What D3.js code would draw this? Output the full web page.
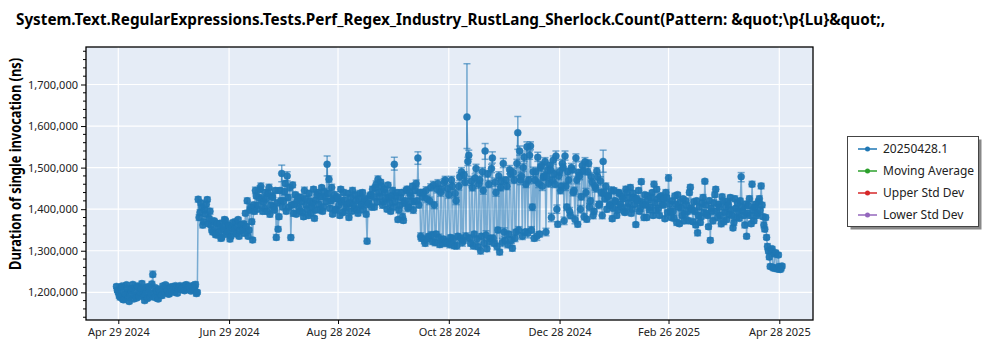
<!DOCTYPE html>
<html><head><meta charset="utf-8">
<script src="https://cdn.jsdelivr.net/npm/d3@7"></script>
<style>body{margin:0;background:#fff} text{font-family:"Noto Sans","Open Sans",sans-serif}</style>
</head><body><svg id="c" width="1000" height="350"></svg>
<script>
const chartTitle = "System.Text.RegularExpressions.Tests.Perf_Regex_Industry_RustLang_Sherlock.Count(Pattern: &quot;\\p{Lu}&quot;,";
const yTitle = "Duration of single invocation (ns)";
const xTickLabels = ["Apr 29 2024","Jun 29 2024","Aug 28 2024","Oct 28 2024","Dec 28 2024","Feb 26 2025","Apr 28 2025"];
const yTicks = [1200000,1300000,1400000,1500000,1600000,1700000];
const legendLabels = ["20250428.1","Moving Average","Upper Std Dev","Lower Std Dev"];
const legendColors = ["#1f77b4","#2ca02c","#d62728","#9467bd"];

// one entry per day; two runs per day (00:00 -> values, 12:00 -> values2)
const dates = [
"2024-04-28","2024-04-29","2024-04-30",
"2024-05-01","2024-05-02","2024-05-03","2024-05-04","2024-05-05","2024-05-06","2024-05-07","2024-05-08","2024-05-09","2024-05-10","2024-05-11","2024-05-12","2024-05-13","2024-05-14","2024-05-15","2024-05-16","2024-05-17","2024-05-18","2024-05-19","2024-05-20","2024-05-21","2024-05-22","2024-05-23","2024-05-24","2024-05-25","2024-05-26","2024-05-27","2024-05-28","2024-05-29","2024-05-30","2024-05-31",
"2024-06-01","2024-06-02","2024-06-03","2024-06-04","2024-06-05","2024-06-06","2024-06-07","2024-06-08","2024-06-09","2024-06-10","2024-06-11","2024-06-12","2024-06-13","2024-06-14","2024-06-15","2024-06-16","2024-06-17","2024-06-18","2024-06-19","2024-06-20","2024-06-21","2024-06-22","2024-06-23","2024-06-24","2024-06-25","2024-06-26","2024-06-27","2024-06-28","2024-06-29","2024-06-30",
"2024-07-01","2024-07-02","2024-07-03","2024-07-04","2024-07-05","2024-07-06","2024-07-07","2024-07-08","2024-07-09","2024-07-10","2024-07-11","2024-07-12","2024-07-13","2024-07-14","2024-07-15","2024-07-16","2024-07-17","2024-07-18","2024-07-19","2024-07-20","2024-07-21","2024-07-22","2024-07-23","2024-07-24","2024-07-25","2024-07-26","2024-07-27","2024-07-28","2024-07-29","2024-07-30","2024-07-31",
"2024-08-01","2024-08-02","2024-08-03","2024-08-04","2024-08-05","2024-08-06","2024-08-07","2024-08-08","2024-08-09","2024-08-10","2024-08-11","2024-08-12","2024-08-13","2024-08-14","2024-08-15","2024-08-16","2024-08-17","2024-08-18","2024-08-19","2024-08-20","2024-08-21","2024-08-22","2024-08-23","2024-08-24","2024-08-25","2024-08-26","2024-08-27","2024-08-28","2024-08-29","2024-08-30","2024-08-31",
"2024-09-01","2024-09-02","2024-09-03","2024-09-04","2024-09-05","2024-09-06","2024-09-07","2024-09-08","2024-09-09","2024-09-10","2024-09-11","2024-09-12","2024-09-13","2024-09-14","2024-09-15","2024-09-16","2024-09-17","2024-09-18","2024-09-19","2024-09-20","2024-09-21","2024-09-22","2024-09-23","2024-09-24","2024-09-25","2024-09-26","2024-09-27","2024-09-28","2024-09-29","2024-09-30",
"2024-10-01","2024-10-02","2024-10-03","2024-10-04","2024-10-05","2024-10-06","2024-10-07","2024-10-08","2024-10-09","2024-10-10","2024-10-11","2024-10-12","2024-10-13","2024-10-14","2024-10-15","2024-10-16","2024-10-17","2024-10-18","2024-10-19","2024-10-20","2024-10-21","2024-10-22","2024-10-23","2024-10-24","2024-10-25","2024-10-26","2024-10-27","2024-10-28","2024-10-29","2024-10-30","2024-10-31",
"2024-11-01","2024-11-02","2024-11-03","2024-11-04","2024-11-05","2024-11-06","2024-11-07","2024-11-08","2024-11-09","2024-11-10","2024-11-11","2024-11-12","2024-11-13","2024-11-14","2024-11-15","2024-11-16","2024-11-17","2024-11-18","2024-11-19","2024-11-20","2024-11-21","2024-11-22","2024-11-23","2024-11-24","2024-11-25","2024-11-26","2024-11-27","2024-11-28","2024-11-29","2024-11-30",
"2024-12-01","2024-12-02","2024-12-03","2024-12-04","2024-12-05","2024-12-06","2024-12-07","2024-12-08","2024-12-09","2024-12-10","2024-12-11","2024-12-12","2024-12-13","2024-12-14","2024-12-15","2024-12-16","2024-12-17","2024-12-18","2024-12-19","2024-12-20","2024-12-21","2024-12-22","2024-12-23","2024-12-24","2024-12-25","2024-12-26","2024-12-27","2024-12-28","2024-12-29","2024-12-30","2024-12-31",
"2025-01-01","2025-01-02","2025-01-03","2025-01-04","2025-01-05","2025-01-06","2025-01-07","2025-01-08","2025-01-09","2025-01-10","2025-01-11","2025-01-12","2025-01-13","2025-01-14","2025-01-15","2025-01-16","2025-01-17","2025-01-18","2025-01-19","2025-01-20","2025-01-21","2025-01-22","2025-01-23","2025-01-24","2025-01-25","2025-01-26","2025-01-27","2025-01-28","2025-01-29","2025-01-30","2025-01-31",
"2025-02-01","2025-02-02","2025-02-03","2025-02-04","2025-02-05","2025-02-06","2025-02-07","2025-02-08","2025-02-09","2025-02-10","2025-02-11","2025-02-12","2025-02-13","2025-02-14","2025-02-15","2025-02-16","2025-02-17","2025-02-18","2025-02-19","2025-02-20","2025-02-21","2025-02-22","2025-02-23","2025-02-24","2025-02-25","2025-02-26","2025-02-27","2025-02-28",
"2025-03-01","2025-03-02","2025-03-03","2025-03-04","2025-03-05","2025-03-06","2025-03-07","2025-03-08","2025-03-09","2025-03-10","2025-03-11","2025-03-12","2025-03-13","2025-03-14","2025-03-15","2025-03-16","2025-03-17","2025-03-18","2025-03-19","2025-03-20","2025-03-21","2025-03-22","2025-03-23","2025-03-24","2025-03-25","2025-03-26","2025-03-27","2025-03-28","2025-03-29","2025-03-30","2025-03-31",
"2025-04-01","2025-04-02","2025-04-03","2025-04-04","2025-04-05","2025-04-06","2025-04-07","2025-04-08","2025-04-09","2025-04-10","2025-04-11","2025-04-12","2025-04-13","2025-04-14","2025-04-15","2025-04-16","2025-04-17","2025-04-18","2025-04-19","2025-04-20","2025-04-21","2025-04-22","2025-04-23","2025-04-24","2025-04-25","2025-04-26","2025-04-27","2025-04-28","2025-04-29"
];

const values = [
1214000,1200000,1188000,1215000,1182000,1196000,1210000,1178000,1205000,1219000,
1192000,1186000,1213000,1200000,1221000,1190000,1207000,1185000,1214000,1196000,
1243000,1188000,1203000,1184000,1199000,1192000,1210000,1218000,1205000,1196000,
1211000,1214000,1200000,1212000,1209000,1216000,1206000,1213000,1217000,1208000,
1214000,1203000,1216000,1211000,1197000,
1424000,1392000,1405000,1370000,1388000,1423000,1378000,1362000,1345000,1370000,
1338000,1357000,1366000,1332000,1350000,1372000,1345000,1360000,1335000,1368000,
1352000,1340000,1375000,1348000,1362000,1365000,1390000,1420000,1350000,1405000,
1326000,1395000,1432000,1410000,1448000,1425000,
1418000,1440000,1395000,1452000,1410000,1428000,1398000,1332000,1352000,1445000,
1486000,1420000,1462000,1480000,1405000,1332000,1458000,1412000,1388000,1430000,
1395000,1418000,1382000,1425000,1400000,1438000,1390000,1415000,1378000,1422000,
1440000,1398000,1452000,1405000,1430000,1508000,1472000,1420000,1388000,1435000,
1400000,1425000,1385000,1418000,1440000,1395000,1412000,1380000,1428000,1445000,
1402000,1420000,1390000,1438000,1410000,1398000,1425000,1323000,1415000,1435000,
1448000,1405000,1460000,1472000,1430000,1455000,1418000,1440000,1400000,1428000,
1395000,1445000,1508000,1432000,1375000,1410000,1440000,1373000,1420000,1448000,
1405000,1432000,1455000,1418000,1462000,1523000,1440000,
1330000,1440000,1318000,1425000,1335000,1452000,1322000,1410000,1340000,1462000,
1315000,1448000,1328000,1470000,1318000,1435000,1332000,1455000,1312000,1420000,
1335000,1478000,1490000,1325000,1465000,1622000,1530000,1318000,1452000,1340000,
1498000,1310000,1470000,1335000,1445000,1540000,1305000,1460000,1330000,1523000,
1318000,1440000,1350000,1297000,1468000,1510000,1325000,1455000,1340000,1485000,
1306000,1470000,1345000,1584000,1540000,1480000,1500000,1345000,1550000,1470000,
1552000,1405000,1330000,1490000,1525000,1340000,1505000,1477000,1515000,1480000,
1462000,1495000,1470000,1485000,1528000,1364000,1490000,1455000,1500000,1528000,
1405000,1470000,1385000,1495000,1445000,1523000,1364000,1480000,1430000,1492000,
1514000,1376000,1510000,1420000,1465000,1395000,1450000,1478000,1412000,1440000,
1515000,1425000,1400000,
1432000,1410000,1377000,1445000,1418000,1398000,1438000,1405000,1425000,1392000,
1440000,1415000,1452000,1400000,1428000,1363000,1420000,1395000,1466000,1412000,
1435000,1380000,1422000,1405000,1440000,1460000,1398000,1425000,1385000,1432000,
1410000,1377000,1428000,1475000,1395000,1420000,1378000,1412000,1435000,1365000,
1402000,1425000,1388000,1410000,1372000,1453000,1398000,1418000,1362000,1343000,
1405000,1382000,1428000,1467000,1390000,1358000,1325000,1395000,1415000,1448000,
1380000,1405000,1365000,1420000,1392000,1375000,1410000,1428000,1385000,1368000,
1402000,1415000,1378000,1478000,1395000,1362000,1335000,1408000,1385000,1460000,
1372000,1412000,1390000,1425000,1456000,
1382000,1352000,1332000,1300000,1262000,1305000,1258000,1295000,1256000,1262000,1258000
];

const values2 = [
1205000,1192000,1212000,1183000,1200000,1218000,1187000,1195000,1210000,1184000,
1203000,1215000,1190000,1208000,1195000,1180000,1212000,1201000,1189000,1220000,
1199000,1211000,1186000,1207000,1193000,1215000,1201000,1208000,1196000,1213000,
1203000,1209000,1216000,1198000,1214000,1207000,1211000,1204000,1218000,1212000,
1209000,1215000,1206000,1219000,1200000,
1380000,1415000,1362000,1398000,1412000,1365000,1395000,1350000,1372000,1340000,
1365000,1345000,1330000,1358000,1375000,1340000,1362000,1328000,1355000,1345000,
1370000,1358000,1335000,1362000,1350000,1342000,1358000,1335000,1398000,1370000,
1410000,1445000,1400000,1428000,1455000,1395000,
1402000,1425000,1438000,1388000,1432000,1405000,1445000,1415000,1382000,1420000,
1405000,1442000,1395000,1428000,1452000,1410000,1390000,1435000,1420000,1402000,
1428000,1392000,1445000,1410000,1385000,1420000,1405000,1448000,1398000,1435000,
1412000,1430000,1395000,1442000,1418000,1438000,1402000,1452000,1425000,1398000,
1430000,1410000,1448000,1392000,1422000,1405000,1438000,1415000,1395000,1410000,
1435000,1398000,1425000,1408000,1440000,1420000,1388000,1412000,1432000,1405000,
1430000,1452000,1418000,1440000,1465000,1410000,1448000,1425000,1458000,1415000,
1432000,1405000,1418000,1440000,1398000,1428000,1382000,1415000,1445000,1402000,
1440000,1418000,1398000,1445000,1420000,1410000,1335000,
1430000,1325000,1445000,1330000,1420000,1338000,1458000,1320000,1448000,1332000,
1440000,1318000,1465000,1322000,1450000,1315000,1470000,1328000,1438000,1312000,
1455000,1330000,1320000,1482000,1335000,1515000,1330000,1468000,1312000,1475000,
1328000,1460000,1300000,1490000,1318000,1338000,1485000,1322000,1498000,1330000,
1465000,1310000,1480000,1452000,1320000,1345000,1470000,1315000,1495000,1325000,
1488000,1330000,1510000,1350000,1470000,1335000,1525000,1460000,1342000,1530000,
1350000,1490000,1470000,1335000,1462000,1500000,1455000,1480000,1345000,1495000,
1505000,1380000,1518000,1460000,1400000,1480000,1445000,1510000,1372000,1455000,
1490000,1395000,1500000,1440000,1375000,1470000,1488000,1400000,1505000,1382000,
1440000,1490000,1405000,1478000,1385000,1455000,1492000,1410000,1468000,1385000,
1440000,1455000,1430000,
1410000,1445000,1402000,1420000,1385000,1440000,1412000,1430000,1395000,1448000,
1405000,1428000,1390000,1438000,1412000,1425000,1445000,1402000,1418000,1380000,
1410000,1432000,1398000,1428000,1385000,1415000,1448000,1402000,1430000,1412000,
1425000,1440000,1392000,1412000,1380000,1395000,1432000,1368000,1405000,1418000,
1385000,1372000,1420000,1395000,1440000,1402000,1370000,1395000,1420000,1385000,
1368000,1415000,1392000,1410000,1385000,1420000,1402000,1372000,1435000,1395000,
1412000,1385000,1430000,1370000,1405000,1418000,1388000,1398000,1355000,1425000,
1380000,1395000,1420000,1405000,1385000,1412000,1390000,1425000,1365000,1398000,
1405000,1385000,1418000,1398000,1410000,
1362000,1380000,1310000,1285000,1300000,1260000,1292000,1258000,1290000,1255000,1263000
];

const errUp = [
5000,6000,4000,5000,7000,5000,4000,6000,5000,5000,
6000,4000,5000,5000,6000,4000,5000,7000,5000,4000,
8000,5000,6000,4000,5000,5000,6000,4000,5000,6000,
5000,4000,5000,6000,5000,4000,5000,5000,6000,4000,
5000,6000,4000,5000,5000,6000,7000,5000,6000,5000,
6000,5000,7000,5000,6000,5000,4000,6000,5000,5000,
6000,5000,5000,7000,5000,4000,6000,5000,5000,6000,
5000,6000,7000,5000,6000,5000,6000,7000,5000,8000,
6000,5000,7000,5000,8000,5000,6000,5000,7000,6000,
6000,20000,5000,7000,10000,6000,6000,7000,5000,6000,
5000,6000,7000,5000,6000,5000,7000,5000,6000,5000,
6000,7000,6000,5000,7000,6000,20000,8000,5000,6000,
7000,5000,6000,5000,6000,7000,5000,6000,5000,6000,
7000,5000,6000,5000,7000,6000,5000,6000,7000,5000,
6000,7000,5000,8000,8000,6000,7000,5000,6000,5000,
6000,5000,7000,17000,6000,5000,6000,7000,5000,6000,
7000,5000,6000,7000,5000,8000,15000,6000,6000,8000,
6000,8000,6000,9000,6000,8000,6000,9000,6000,8000,
6000,9000,6000,8000,6000,9000,6000,8000,6000,10000,
10000,6000,9000,128000,12000,6000,9000,6000,10000,6000,
9000,6000,8000,18000,6000,9000,6000,15000,6000,8000,
6000,6000,9000,12000,6000,9000,6000,10000,6000,9000,
6000,39000,12000,9000,10000,6000,12000,8000,10000,7000,
6000,9000,12000,6000,9000,8000,9000,8000,8000,9000,
8000,9000,12000,6000,9000,8000,9000,12000,7000,8000,
7000,9000,8000,10000,6000,8000,7000,9000,10000,6000,
9000,7000,8000,6000,8000,9000,6000,7000,27000,7000,
6000,7000,5000,7000,6000,5000,7000,6000,5000,7000,
5000,7000,6000,7000,5000,6000,5000,6000,5000,7000,
6000,5000,7000,5000,6000,5000,7000,6000,5000,6000,
7000,5000,6000,5000,8000,6000,5000,7000,6000,5000,
6000,7000,5000,6000,5000,7000,6000,5000,6000,5000,
6000,5000,7000,7000,5000,6000,5000,6000,5000,7000,
6000,5000,7000,6000,5000,6000,5000,7000,6000,5000,
6000,5000,7000,5000,10000,5000,6000,5000,7000,6000,
7000,5000,6000,5000,7000,6000,6000,5000,6000,5000,
6000,5000,5000,6000,5000,6000,5000
];

const errDown = [
5000,5000,6000,4000,6000,5000,5000,5000,6000,4000,
5000,5000,4000,6000,5000,5000,6000,5000,4000,5000,
6000,6000,5000,5000,4000,6000,5000,5000,6000,5000,
4000,5000,6000,5000,4000,5000,6000,4000,5000,5000,
6000,5000,5000,4000,6000,7000,6000,6000,5000,6000,
5000,6000,6000,6000,5000,6000,5000,5000,6000,4000,
5000,6000,6000,5000,6000,5000,5000,6000,6000,5000,
6000,5000,6000,6000,5000,6000,7000,6000,6000,7000,
5000,6000,6000,7000,6000,6000,5000,7000,6000,5000,
7000,20000,6000,6000,12000,5000,7000,6000,6000,5000,
6000,5000,6000,6000,5000,6000,6000,6000,5000,6000,
7000,6000,5000,6000,6000,7000,28000,7000,6000,5000,
6000,6000,5000,6000,7000,6000,6000,5000,6000,7000,
6000,6000,5000,6000,6000,5000,6000,7000,6000,6000,
7000,6000,6000,7000,8000,7000,6000,6000,5000,6000,
5000,6000,6000,14000,7000,6000,7000,6000,6000,5000,
6000,6000,7000,6000,6000,7000,15000,7000,7000,9000,
7000,9000,7000,8000,7000,9000,7000,8000,7000,9000,
7000,8000,7000,9000,7000,8000,7000,9000,7000,9000,
9000,7000,8000,76000,10000,7000,8000,7000,9000,7000,
8000,7000,9000,20000,7000,8000,7000,12000,7000,9000,
7000,7000,8000,10000,7000,8000,7000,9000,7000,8000,
7000,40000,10000,8000,9000,7000,10000,9000,9000,8000,
7000,8000,10000,7000,8000,9000,8000,9000,9000,8000,
9000,8000,10000,7000,8000,9000,8000,10000,8000,9000,
8000,8000,9000,9000,7000,9000,8000,8000,9000,7000,
8000,8000,9000,7000,9000,8000,7000,8000,26000,8000,
7000,6000,6000,6000,7000,6000,6000,7000,6000,6000,
6000,6000,7000,6000,6000,7000,6000,5000,6000,6000,
7000,6000,6000,6000,7000,6000,6000,7000,6000,5000,
6000,6000,5000,6000,7000,5000,6000,6000,7000,6000,
5000,6000,6000,7000,6000,6000,5000,6000,7000,6000,
7000,6000,6000,6000,6000,7000,6000,5000,6000,6000,
5000,6000,6000,7000,6000,5000,6000,6000,7000,6000,
7000,6000,6000,6000,12000,6000,7000,6000,6000,7000,
6000,6000,7000,6000,6000,7000,5000,6000,5000,6000,
5000,6000,6000,5000,6000,5000,6000
];

const err2 = [
5000,6000,5000,4000,6000,5000,5000,6000,4000,5000,
6000,5000,5000,6000,4000,5000,6000,5000,5000,6000,
5000,4000,6000,5000,5000,6000,5000,4000,6000,5000,
5000,6000,4000,5000,6000,5000,5000,4000,6000,5000,
6000,5000,5000,6000,5000,7000,6000,7000,6000,7000,
6000,7000,6000,6000,7000,6000,6000,7000,6000,6000,
7000,6000,6000,7000,6000,6000,7000,6000,7000,6000,
6000,7000,6000,7000,6000,7000,8000,6000,7000,8000,
7000,6000,8000,6000,7000,6000,8000,6000,7000,6000,
7000,6000,8000,6000,7000,8000,6000,7000,6000,8000,
6000,7000,6000,8000,6000,7000,6000,8000,6000,7000,
8000,6000,7000,6000,8000,6000,7000,6000,8000,6000,
7000,6000,8000,6000,7000,6000,8000,6000,7000,6000,
8000,6000,7000,6000,8000,6000,7000,6000,8000,6000,
7000,8000,6000,7000,8000,6000,8000,7000,8000,6000,
7000,6000,7000,8000,6000,7000,6000,7000,8000,6000,
8000,7000,6000,8000,7000,6000,7000,8000,9000,8000,
9000,8000,9000,8000,9000,8000,9000,8000,9000,8000,
9000,8000,9000,8000,9000,8000,9000,8000,9000,8000,
9000,8000,8000,10000,8000,11000,8000,10000,8000,10000,
8000,10000,8000,10000,8000,8000,10000,8000,10000,8000,
10000,8000,10000,10000,8000,8000,10000,8000,10000,8000,
10000,8000,11000,8000,10000,8000,11000,10000,8000,11000,
8000,10000,10000,8000,10000,10000,9000,10000,8000,10000,
10000,8000,10000,9000,8000,10000,9000,10000,8000,9000,
10000,8000,10000,9000,8000,9000,10000,8000,10000,8000,
9000,10000,8000,9000,8000,9000,10000,8000,9000,8000,
9000,9000,9000,6000,7000,6000,7000,6000,7000,6000,
7000,6000,7000,6000,7000,6000,7000,6000,7000,6000,
7000,6000,7000,6000,7000,6000,7000,6000,7000,6000,
7000,6000,7000,6000,7000,6000,7000,6000,7000,6000,
7000,6000,7000,6000,7000,6000,7000,6000,7000,6000,
7000,6000,7000,6000,7000,6000,7000,6000,7000,6000,
7000,6000,7000,6000,7000,6000,7000,6000,7000,6000,
7000,6000,7000,6000,7000,6000,7000,6000,7000,6000,
7000,6000,7000,6000,7000,6000,7000,6000,7000,6000,
5000,6000,5000,6000,5000,6000,5000
];

// ---------- layout ----------
const svg = d3.select("#c");
const L = 86, R = 813, T = 47, B = 320;
const parse = d3.utcParse("%Y-%m-%d");
const parseTick = d3.utcParse("%b %d %Y");
const tickDates = xTickLabels.map(parseTick);
const xAnchor = d3.scaleUtc().domain([tickDates[0], tickDates[tickDates.length-1]]).range([118.3, 779.3]);
const x = d3.scaleUtc().domain([xAnchor.invert(L), xAnchor.invert(R)]).range([L, R]);
const yAnchor = d3.scaleLinear().domain([1200000, 1700000]).range([292.3, 84.5]);
const y = d3.scaleLinear().domain([yAnchor.invert(B), yAnchor.invert(T)]).range([B, T]);

const data = [];
dates.forEach((d, i) => {
  const t0 = parse(d);
  data.push({date: t0, v: values[i], up: errUp[i], dn: errDown[i]});
  data.push({date: d3.utcHour.offset(t0, 12), v: values2[i], up: err2[i], dn: err2[i]});
});

svg.append("rect").attr("x", 0).attr("y", 0).attr("width", 1000).attr("height", 350).attr("fill", "#fff");
svg.append("rect").attr("x", L).attr("y", T).attr("width", R - L).attr("height", B - T).attr("fill", "#e5ecf6");

// grid
svg.append("g").selectAll("line").data(yTicks).join("line")
  .attr("x1", L).attr("x2", R).attr("y1", d => y(d)).attr("y2", d => y(d))
  .attr("stroke", "#fff").attr("stroke-width", 1.2);
svg.append("g").selectAll("line").data(tickDates).join("line")
  .attr("x1", d => x(d)).attr("x2", d => x(d)).attr("y1", T).attr("y2", B)
  .attr("stroke", "#fff").attr("stroke-width", 1.2);

svg.append("clipPath").attr("id", "clip").append("rect")
  .attr("x", L).attr("y", T).attr("width", R - L).attr("height", B - T);
const plot = svg.append("g").attr("clip-path", "url(#clip)");
const blue = "#1f77b4";

// line
plot.append("path").datum(data)
  .attr("d", d3.line().x(d => x(d.date)).y(d => y(d.v)))
  .attr("fill", "none").attr("stroke", blue).attr("stroke-width", 1.5).attr("stroke-opacity", 0.55);

// error bars
const eb = plot.append("g").attr("stroke", blue).attr("stroke-opacity", 0.6).attr("stroke-width", 1.5);
eb.selectAll("line.v").data(data).join("line").attr("class", "v")
  .attr("x1", d => x(d.date)).attr("x2", d => x(d.date))
  .attr("y1", d => y(d.v + d.up)).attr("y2", d => y(d.v - d.dn));
eb.selectAll("line.t").data(data).join("line").attr("class", "t")
  .attr("x1", d => x(d.date) - 3.5).attr("x2", d => x(d.date) + 3.5)
  .attr("y1", d => y(d.v + d.up)).attr("y2", d => y(d.v + d.up));
eb.selectAll("line.b").data(data).join("line").attr("class", "b")
  .attr("x1", d => x(d.date) - 3.5).attr("x2", d => x(d.date) + 3.5)
  .attr("y1", d => y(d.v - d.dn)).attr("y2", d => y(d.v - d.dn));

// markers
plot.append("g").selectAll("circle").data(data).join("circle")
  .attr("cx", d => x(d.date)).attr("cy", d => y(d.v)).attr("r", 3.5)
  .attr("fill", blue).attr("fill-opacity", 0.95)
  .attr("stroke", blue).attr("stroke-opacity", 0.45).attr("stroke-width", 1);

// frame
svg.append("rect").attr("x", L).attr("y", T).attr("width", R - L).attr("height", B - T)
  .attr("fill", "none").attr("stroke", "#000").attr("stroke-width", 1.3);

// y axis
const yAxis = d3.axisLeft(y).tickValues(yTicks).tickFormat(d3.format(",")).tickSize(5).tickPadding(3);
const gy = svg.append("g").attr("transform", `translate(${L},0)`).call(yAxis);
gy.select(".domain").remove();
gy.selectAll("text").attr("font-size", 11).attr("fill", "#222").style("font-family", "'Noto Sans', sans-serif");
const minorY = d3.range(1140000, 1790000, 20000).filter(v => !yTicks.includes(v));
svg.append("g").selectAll("line").data(minorY).join("line")
  .attr("x1", L - 3).attr("x2", L).attr("y1", d => y(d)).attr("y2", d => y(d))
  .attr("stroke", "#000");

// x axis
const xAxis = d3.axisBottom(x).tickValues(tickDates).tickFormat(d3.utcFormat("%b %d %Y")).tickSize(4).tickPadding(4);
const gx = svg.append("g").attr("transform", `translate(0,${B})`).call(xAxis);
gx.select(".domain").remove();
gx.selectAll("text").attr("font-size", 11).attr("fill", "#222").style("font-family", "'Noto Sans', sans-serif");

// titles
svg.append("text").attr("x", 16).attr("y", 25).attr("font-weight", "bold")
  .attr("font-size", 15.5).attr("fill", "#000")
  .attr("textLength", 869).attr("lengthAdjust", "spacingAndGlyphs").text(chartTitle);

svg.append("text").attr("transform", "translate(21,164) rotate(-90)")
  .attr("text-anchor", "middle").attr("font-weight", "bold").attr("font-size", 16)
  .attr("fill", "#000").attr("textLength", 212).attr("lengthAdjust", "spacingAndGlyphs").text(yTitle);

// legend
const lg = svg.append("g");
lg.append("rect").attr("x", 850.5).attr("y", 139.5).attr("width", 131).attr("height", 90).attr("fill", "#888");
lg.append("rect").attr("x", 847.5).attr("y", 136.5).attr("width", 131).attr("height", 90)
  .attr("fill", "#fff").attr("stroke", "#444").attr("stroke-width", 1);
const rows = lg.selectAll("g.row").data(legendLabels).join("g").attr("class", "row")
  .attr("transform", (d, i) => `translate(0,${149 + i * 22})`);
rows.append("line").attr("x1", 858).attr("x2", 877).attr("y1", 0).attr("y2", 0)
  .attr("stroke", (d, i) => legendColors[i]).attr("stroke-width", 1.5);
rows.append("circle").attr("cx", 867.5).attr("cy", 0).attr("r", 2.5).attr("fill", (d, i) => legendColors[i]);
rows.append("text").attr("x", 883).attr("y", 4).attr("font-size", 12).attr("fill", "#222").text(d => d);
</script></body></html>
